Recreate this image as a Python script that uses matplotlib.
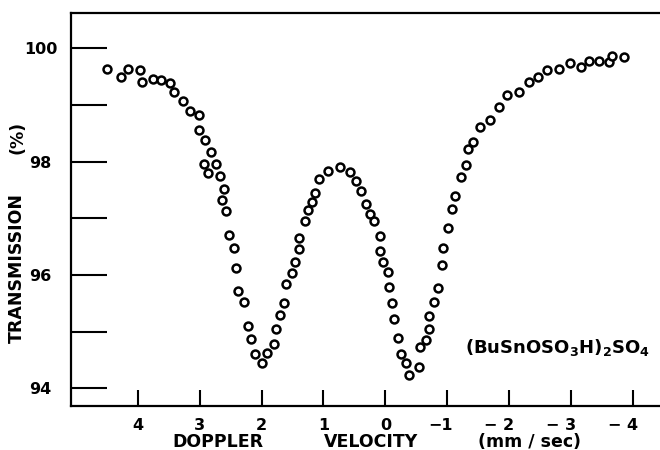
import matplotlib
matplotlib.use("Agg")
import matplotlib.pyplot as plt
from matplotlib.ticker import FixedLocator, FixedFormatter, NullFormatter
from matplotlib.transforms import ScaledTranslation
from matplotlib.font_manager import FontProperties

# ---- data (Doppler velocity mm/s, transmission %) ----
velocity = [
    4.50, 4.27, 4.16, 3.97, 3.93, 3.76, 3.62, 3.48, 3.42, 3.27,
    3.16, 3.02, 3.01, 2.92, 2.82, 2.93, 2.73, 2.86, 2.68, 2.61,
    2.64, 2.58, 2.52, 2.45, 2.42, 2.38, 2.28, 2.22, 2.17, 2.10,
    1.99, 1.91, 1.80, 1.76, 1.70, 1.64, 1.61, 1.51, 1.46, 1.40,
    1.39, 1.30, 1.25, 1.19, 1.14, 1.07, 0.93, 0.74, 0.57, 0.47,
    0.40, 0.31, 0.25, 0.19, 0.08, 0.08, 0.03, -0.04, -0.06, -0.10,
    -0.14, -0.20, -0.26, -0.33, -0.39, -0.54, -0.56, -0.66, -0.71, -0.71,
    -0.78, -0.85, -0.91, -0.93, -1.01, -1.07, -1.13, -1.23, -1.31, -1.33,
    -1.42, -1.53, -1.69, -1.84, -1.96, -2.16, -2.33, -2.47, -2.61, -2.81,
    -2.98, -3.16, -3.29, -3.45, -3.61, -3.66, -3.86,
]
transmission = [
    99.64, 99.50, 99.63, 99.62, 99.40, 99.46, 99.44, 99.39, 99.23, 99.06,
    98.90, 98.82, 98.56, 98.38, 98.17, 97.96, 97.96, 97.79, 97.75, 97.52,
    97.32, 97.12, 96.70, 96.47, 96.13, 95.72, 95.52, 95.10, 94.87, 94.61,
    94.44, 94.63, 94.79, 95.04, 95.30, 95.50, 95.84, 96.03, 96.23, 96.45,
    96.66, 96.96, 97.15, 97.29, 97.45, 97.69, 97.83, 97.90, 97.82, 97.65,
    97.49, 97.26, 97.07, 96.95, 96.69, 96.42, 96.23, 96.06, 95.78, 95.50,
    95.22, 94.89, 94.61, 94.45, 94.24, 94.37, 94.73, 94.85, 95.04, 95.27,
    95.53, 95.77, 96.18, 96.47, 96.83, 97.17, 97.39, 97.72, 97.94, 98.23,
    98.34, 98.61, 98.74, 98.96, 99.18, 99.23, 99.40, 99.50, 99.61, 99.64,
    99.73, 99.66, 99.77, 99.78, 99.75, 99.87, 99.85,
]

x_ticks = [4, 3, 2, 1, 0, -1, -2, -3, -4]
x_tick_labels = ["4", "3", "2", "1", "0", "\u22121", "\u2212 2", "\u2212 3", "\u2212 4"]
y_ticks = [94, 96, 98, 100]
y_tick_labels = ["94", "96", "98", "100"]
y_minor_ticks = [95, 97, 99]
compound = r"(BuSnOSO$_\mathbf{3}$H)$_\mathbf{2}$SO$_\mathbf{4}$"
x_label_parts = ["DOPPLER", "VELOCITY", "(mm / sec)"]
y_label_parts = ["TRANSMISSION", "(%)"]

plt.rcParams["font.family"] = ["DejaVu Sans"]
plt.rcParams["font.weight"] = "bold"
plt.rcParams["mathtext.fontset"] = "dejavusans"

W, H = 660, 450
fig = plt.figure(figsize=(W / 100, H / 100), dpi=100)
fig.patch.set_facecolor("white")


def fx(px):
    return px / W


def fy(py):
    return 1 - py / H


ax = fig.add_axes([fx(71), fy(406), fx(660) - fx(71), fy(13) - fy(406)])
ax.plot(velocity, transmission, linestyle="none", marker="o", markersize=5.7,
        markerfacecolor="white", markeredgecolor="black", markeredgewidth=1.8)

ax.set_xlim(5.082, -4.441)
ax.set_ylim(93.69, 100.62)

for side in ("left", "bottom", "top"):
    ax.spines[side].set_linewidth(1.6)
    ax.spines[side].set_color("black")
ax.spines["right"].set_visible(False)

# x ticks
ax.xaxis.set_major_locator(FixedLocator(x_ticks))
ax.xaxis.set_major_formatter(FixedFormatter(x_tick_labels))
ax.xaxis.set_minor_locator(FixedLocator([0]))
ax.xaxis.set_minor_formatter(NullFormatter())
ax.tick_params(axis="x", which="major", direction="in", length=11.5, width=1.5,
               pad=9, labelsize=11.5, colors="black", top=False)
ax.tick_params(axis="x", which="minor", direction="in", length=21.5, width=1.5,
               top=False)

# y ticks
ax.yaxis.set_major_locator(FixedLocator(y_ticks))
ax.yaxis.set_major_formatter(FixedFormatter(y_tick_labels))
ax.yaxis.set_minor_locator(FixedLocator(y_minor_ticks))
ax.yaxis.set_minor_formatter(NullFormatter())
ax.tick_params(axis="y", which="both", direction="in", length=26, width=1.5,
               right=False)
ax.tick_params(axis="y", which="major", pad=22, labelsize=11.5, colors="black")

for lbl in ax.get_yticklabels():
    lbl.set_horizontalalignment("center")
    lbl.set_fontweight("bold")

# make the digits of negative labels sit on the tick (minus hangs to the left)
renderer = fig.canvas.get_renderer()
for lbl in ax.get_xticklabels():
    lbl.set_fontweight("bold")
    txt = lbl.get_text()
    if txt.startswith("\u2212"):
        prefix = txt[:-1]
        fp = FontProperties(family="DejaVu Sans", weight="bold", size=11.5)
        w, _, _ = renderer.get_text_width_height_descent(prefix, fp, ismath=False)
        lbl.set_transform(lbl.get_transform() +
                          ScaledTranslation(-(w / 2) / fig.dpi, 0, fig.dpi_scale_trans))

# axis titles
lab_kw = dict(fontsize=12.5, fontweight="bold", color="black", va="center", ha="center")
fig.text(fx(218), fy(442), x_label_parts[0], **lab_kw)
fig.text(fx(371), fy(442), x_label_parts[1], **lab_kw)
fig.text(fx(529), fy(442), x_label_parts[2], **lab_kw)
fig.text(fx(17), fy(268), y_label_parts[0], rotation=90, **lab_kw)
fig.text(fx(17), fy(137), y_label_parts[1], rotation=90, **lab_kw)

# compound label
fig.text(fx(465), fy(353), compound, fontsize=13, fontweight="bold",
         ha="left", va="baseline", color="black")

fig.savefig("out.png", dpi=100, facecolor="white")
